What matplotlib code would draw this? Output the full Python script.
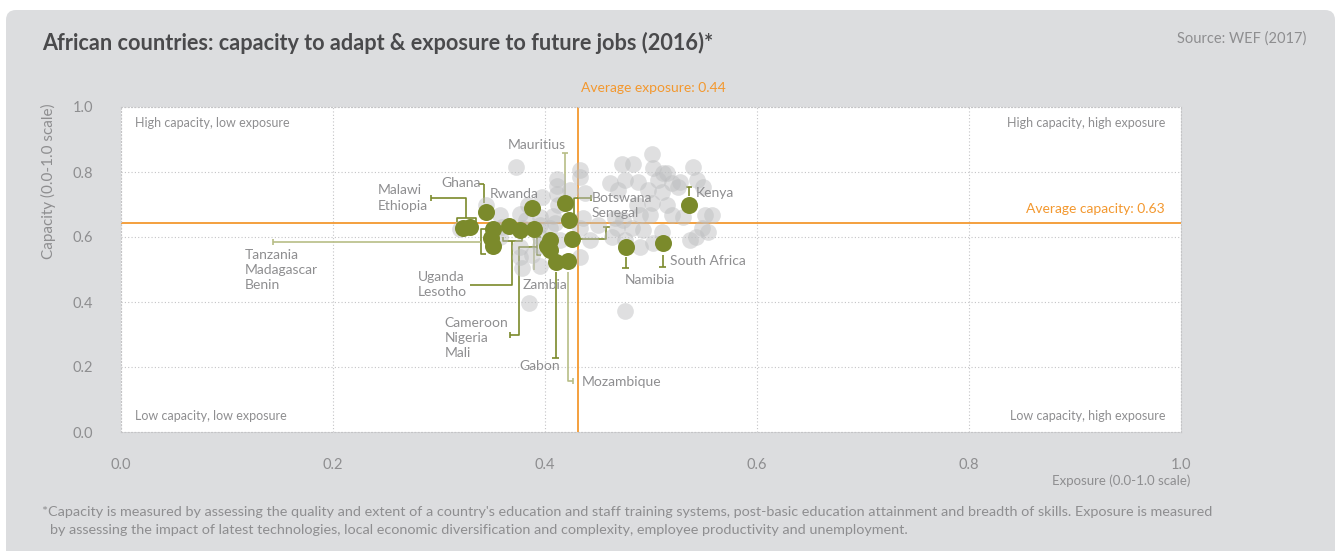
import matplotlib
matplotlib.use("Agg")
import matplotlib.pyplot as plt
from matplotlib.patches import FancyBboxPatch

plt.rcParams['font.family'] = ['Lato', 'DejaVu Sans']

# ---------------- data ----------------
other_exposure = [0.373, 0.411, 0.411, 0.424, 0.411, 0.397, 0.344, 0.384, 0.412, 0.358,
                  0.376, 0.395, 0.408, 0.382, 0.395, 0.409, 0.320, 0.359, 0.379, 0.405,
                  0.358, 0.395, 0.414, 0.376, 0.395, 0.388, 0.376, 0.395, 0.378, 0.385,
                  0.433, 0.433, 0.438, 0.436, 0.433, 0.442, 0.433, 0.450,
                  0.501, 0.473, 0.483, 0.511, 0.502, 0.540, 0.461, 0.475, 0.488, 0.507,
                  0.515, 0.520, 0.527, 0.543, 0.549, 0.469, 0.497, 0.510, 0.525, 0.487,
                  0.515, 0.501, 0.490, 0.520, 0.530, 0.558, 0.551, 0.466, 0.474, 0.499,
                  0.468, 0.482, 0.492, 0.510, 0.548, 0.554, 0.463, 0.475, 0.490, 0.502,
                  0.542, 0.537, 0.475]
other_capacity = [0.815, 0.778, 0.757, 0.745, 0.732, 0.723, 0.698, 0.698, 0.698, 0.668,
                  0.671, 0.662, 0.665, 0.652, 0.637, 0.643, 0.625, 0.631, 0.628, 0.628,
                  0.600, 0.600, 0.591, 0.569, 0.572, 0.545, 0.538, 0.511, 0.505, 0.397,
                  0.785, 0.806, 0.735, 0.658, 0.628, 0.591, 0.538, 0.637,
                  0.855, 0.825, 0.825, 0.797, 0.812, 0.815, 0.766, 0.775, 0.769, 0.775,
                  0.797, 0.766, 0.769, 0.775, 0.754, 0.745, 0.745, 0.738, 0.754, 0.698,
                  0.698, 0.705, 0.668, 0.668, 0.662, 0.668, 0.668, 0.658, 0.652, 0.668,
                  0.628, 0.628, 0.622, 0.615, 0.628, 0.615, 0.600, 0.591, 0.569, 0.582,
                  0.600, 0.591, 0.372]

countries = ["Kenya", "South Africa", "Namibia", "Mauritius", "Botswana", "Senegal",
             "Gabon", "Mozambique", "Rwanda", "Ghana", "Malawi", "Ethiopia",
             "Tanzania", "Madagascar", "Benin", "Uganda", "Lesotho", "Zambia",
             "Cameroon", "Nigeria", "Mali"]
africa_exposure = [0.536, 0.511, 0.476, 0.419, 0.423, 0.425,
                   0.410, 0.422, 0.388, 0.344, 0.323, 0.329,
                   0.351, 0.349, 0.351, 0.366, 0.376, 0.390,
                   0.405, 0.402, 0.405]
africa_capacity = [0.698, 0.582, 0.569, 0.705, 0.652, 0.594,
                   0.523, 0.526, 0.689, 0.677, 0.628, 0.631,
                   0.625, 0.597, 0.572, 0.634, 0.622, 0.625,
                   0.591, 0.572, 0.560]

avg_exposure = 0.431
avg_capacity = 0.643
avg_exposure_label = "Average exposure: 0.44"
avg_capacity_label = "Average capacity: 0.63"
ticks = [0.0, 0.2, 0.4, 0.6, 0.8, 1.0]
tick_labels = ["0.0", "0.2", "0.4", "0.6", "0.8", "1.0"]

# ---------------- styling ----------------
W, H = 1337, 551
BG = '#dcdddf'
GREY_TXT = '#8e8e90'
OLIVE = '#7b8a2b'
OLIVE_L = '#b7bd86'
ORANGE = '#f3982f'
GRID = '#c4c4c6'

fig = plt.figure(figsize=(W / 100, H / 100), dpi=100, facecolor='white')
panel = FancyBboxPatch((0.06, -0.3), 13.29, 5.41 + 0.3, boxstyle="round,pad=0,rounding_size=0.1",
                       transform=fig.dpi_scale_trans, facecolor=BG, edgecolor='none', zorder=-10)
fig.patches.append(panel)

def fx(px):
    return px / W

def fy(py):
    return 1 - py / H

ax = fig.add_axes([fx(121), fy(432), fx(1181) - fx(121), fy(107) - fy(432)])
ax.set_zorder(5)
ax.set_facecolor('white')
ax.set_xlim(0, 1)
ax.set_ylim(0, 1)
ax.set_xticks(ticks)
ax.set_yticks(ticks)
ax.set_xticklabels(tick_labels)
ax.set_yticklabels(tick_labels)
ax.tick_params(length=0, labelsize=10.5, labelcolor=GREY_TXT)
ax.tick_params(axis='x', pad=19)
ax.tick_params(axis='y', pad=20)
ax.grid(True, color=GRID, linestyle=(0, (1, 2)), linewidth=0.8)
for s in ax.spines.values():
    s.set_edgecolor(GRID)
    s.set_linestyle((0, (1, 2)))
    s.set_linewidth(0.8)
ax.set_axisbelow(True)

# average lines
ax.axvline(avg_exposure, color=ORANGE, linewidth=1.3, zorder=2)
ax.axhline(avg_capacity, color=ORANGE, linewidth=1.3, zorder=2)
ax.text(avg_exposure + 0.003, 1.058, avg_exposure_label, color=ORANGE, fontsize=10,
        ha='left', va='center', clip_on=False)
ax.text(0.985, avg_capacity + 0.025, avg_capacity_label, color=ORANGE, fontsize=10,
        ha='right', va='bottom')

# points
ax.scatter(other_exposure, other_capacity, s=145, color='#bdbec0', alpha=0.48,
           linewidths=0, zorder=3)

# leader lines (data coords)
def seg(xs, ys, c=OLIVE):
    ax.plot(xs, ys, color=c, linewidth=1.2, zorder=2.5, solid_capstyle='butt')

def hcap(x, y, c=OLIVE):
    seg([x - 0.003, x + 0.003], [y, y], c)

def vcap(x, y, c=OLIVE):
    seg([x, x], [y - 0.009, y + 0.009], c)

# Mauritius
seg([0.419, 0.419], [0.705, 0.858], OLIVE_L); hcap(0.419, 0.858, OLIVE_L)
# Botswana
seg([0.427, 0.427, 0.443], [0.668, 0.720, 0.720]); vcap(0.443, 0.720)
# Senegal
seg([0.431, 0.458, 0.458], [0.594, 0.594, 0.631]); hcap(0.458, 0.631)
# Kenya
seg([0.536, 0.536], [0.726, 0.754]); hcap(0.536, 0.754)
# South Africa
seg([0.511, 0.511], [0.545, 0.508]); hcap(0.511, 0.508)
# Namibia
seg([0.476, 0.476], [0.538, 0.505]); hcap(0.476, 0.505)
# Ghana
seg([0.342, 0.342], [0.705, 0.763]); seg([0.338, 0.342], [0.763, 0.763])
# Malawi / Ethiopia
seg([0.317, 0.317, 0.335, 0.335], [0.646, 0.658, 0.658, 0.646])
seg([0.325, 0.325, 0.292], [0.658, 0.720, 0.720]); vcap(0.292, 0.720)
# Tanzania / Madagascar / Benin
seg([0.344, 0.340, 0.340, 0.344], [0.625, 0.625, 0.548, 0.548])
seg([0.340, 0.143], [0.585, 0.585], OLIVE_L); vcap(0.143, 0.585, OLIVE_L)
# Uganda / Lesotho
seg([0.360, 0.360, 0.378, 0.378], [0.600, 0.588, 0.588, 0.600])
seg([0.369, 0.369, 0.329], [0.588, 0.452, 0.452])
# Zambia
seg([0.390, 0.390], [0.597, 0.498], OLIVE_L)
# Cameroon / Nigeria / Mali
seg([0.396, 0.392, 0.392, 0.396], [0.600, 0.600, 0.545, 0.545])
seg([0.392, 0.375, 0.375, 0.367], [0.569, 0.569, 0.298, 0.298]); vcap(0.367, 0.298)
# Gabon
seg([0.410, 0.410], [0.492, 0.228]); hcap(0.410, 0.228)
# Mozambique
seg([0.422, 0.422, 0.426], [0.492, 0.157, 0.157], OLIVE_L); vcap(0.426, 0.157, OLIVE_L)

ax.scatter(africa_exposure, africa_capacity, s=150, color=OLIVE, linewidths=0, zorder=4)

# labels
lab = dict(color=GREY_TXT, fontsize=10, va='center', zorder=5)
ax.text(0.392, 0.883, "Mauritius", ha='center', **lab)
ax.text(0.444, 0.720, "Botswana", ha='left', **lab)
ax.text(0.444, 0.674, "Senegal", ha='left', **lab)
ax.text(0.542, 0.735, "Kenya", ha='left', **lab)
ax.text(0.518, 0.526, "South Africa", ha='left', **lab)
ax.text(0.475, 0.468, "Namibia", ha='left', **lab)
ax.text(0.339, 0.766, "Ghana", ha='right', **lab)
ax.text(0.348, 0.732, "Rwanda", ha='left', **lab)
ax.text(0.2425, 0.745, "Malawi", ha='left', **lab)
ax.text(0.2425, 0.695, "Ethiopia", ha='left', **lab)
for t, yy in zip(["Tanzania", "Madagascar", "Benin"], [0.545, 0.498, 0.452]):
    ax.text(0.117, yy, t, ha='left', **lab)
for t, yy in zip(["Uganda", "Lesotho"], [0.477, 0.431]):
    ax.text(0.280, yy, t, ha='left', **lab)
ax.text(0.379, 0.452, "Zambia", ha='left', **lab)
for t, yy in zip(["Cameroon", "Nigeria", "Mali"], [0.335, 0.289, 0.243]):
    ax.text(0.305, yy, t, ha='left', **lab)
ax.text(0.395, 0.203, "Gabon", ha='center', **lab)
ax.text(0.435, 0.154, "Mozambique", ha='left', **lab)

# quadrant labels
q = dict(color=GREY_TXT, fontsize=9, va='center')
ax.text(0.013, 0.952, "High capacity, low exposure", ha='left', **q)
ax.text(0.985, 0.952, "High capacity, high exposure", ha='right', **q)
ax.text(0.013, 0.050, "Low capacity, low exposure", ha='left', **q)
ax.text(0.985, 0.050, "Low capacity, high exposure", ha='right', **q)

# figure texts
fig.text(fx(42), fy(43), "African countries: capacity to adapt & exposure to future jobs (2016)*",
         fontsize=15.6, fontweight='bold', color='#4a4a4c', ha='left', va='center')
fig.text(fx(1306), fy(39), "Source: WEF (2017)", fontsize=10.5, color=GREY_TXT, ha='right', va='center')
fig.text(fx(48), fy(181), "Capacity (0.0-1.0 scale)", fontsize=11, color=GREY_TXT,
         rotation=90, ha='center', va='center')
fig.text(fx(1190), fy(481), "Exposure (0.0-1.0 scale)", fontsize=9.5, color=GREY_TXT,
         ha='right', va='center')
fig.text(fx(42), fy(512), "*Capacity is measured by assessing the quality and extent of a country's education and staff training systems, post-basic education attainment and breadth of skills. Exposure is measured",
         fontsize=10.35, color=GREY_TXT, ha='left', va='center')
fig.text(fx(50), fy(530), "by assessing the impact of latest technologies, local economic diversification and complexity, employee productivity and unemployment.",
         fontsize=10.35, color=GREY_TXT, ha='left', va='center')

fig.savefig("out.png", dpi=100, facecolor='white')
